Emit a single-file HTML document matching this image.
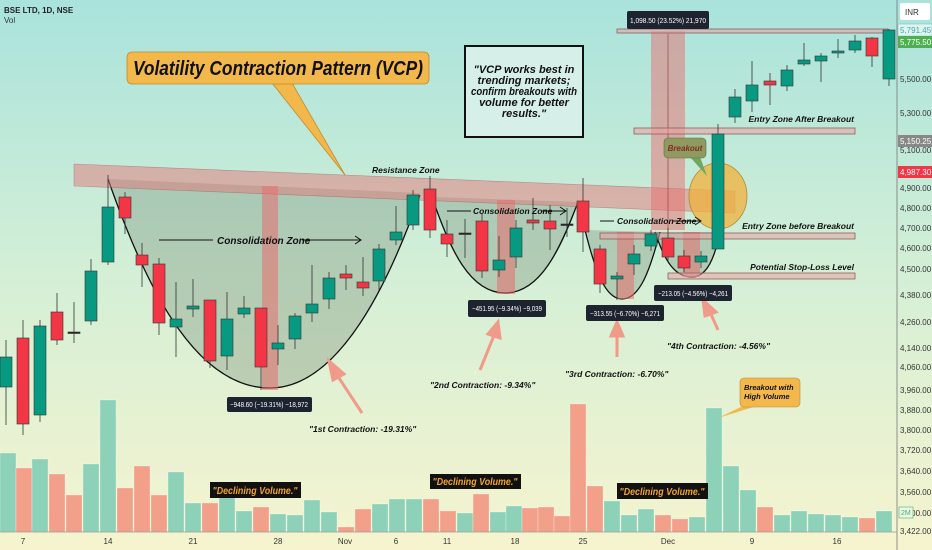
<!DOCTYPE html>
<html><head><meta charset="utf-8"><style>
html,body{margin:0;padding:0;width:932px;height:550px;overflow:hidden;font-family:"Liberation Sans",sans-serif}
svg{display:block}
.ax{font-size:8px;fill:#333}
.it{font-family:"Liberation Sans",sans-serif;font-style:italic;font-weight:bold}
</style></head><body>
<svg id="s" width="932" height="550" viewBox="0 0 932 550" xmlns="http://www.w3.org/2000/svg">
<defs><linearGradient id="bg" x1="0" y1="0" x2="0" y2="1">
<stop offset="0" stop-color="#a9e3dc"/><stop offset="0.5" stop-color="#d4efd6"/><stop offset="1" stop-color="#f6f4cf"/></linearGradient></defs>
<rect width="932" height="550" fill="url(#bg)"/>
<g id="vol"></g>
<g fill="rgba(110,130,110,0.32)" stroke="none">
<path d="M108,179 L420,193 C390,280 340,388 270,388 C200,388 150,300 108,179Z"/>
<path d="M432,197 C450,250 470,293 505,293 C540,293 560,250 578,202 Z"/>
<path d="M585,230 C595,270 605,299 622,299 C640,299 650,270 660,232 Z"/>
<path d="M655,232 C665,262 675,277 692,277 C705,277 712,262 716,248 L716,232 Z"/>
</g>
<g fill="none" stroke="#111" stroke-width="1.3">
<path d="M108,179 C150,300 200,388 270,388 C340,388 390,280 420,195"/>
<path d="M432,197 C450,250 470,293 505,293 C540,293 560,250 578,202"/>
<path d="M585,230 C595,270 605,299 622,299 C640,299 650,270 660,232"/>
<path d="M655,232 C665,262 675,277 692,277 C705,277 712,262 716,248"/>
</g>
<polygon points="74,164 735,191 735,213 74,186" fill="rgba(228,120,120,0.5)" stroke="rgba(160,80,80,0.5)" stroke-width="0.6"/>
<g fill="rgba(232,110,110,0.55)">
<rect x="262" y="186" width="16" height="204"/>
<rect x="497" y="200" width="18" height="94"/>
<rect x="617" y="232" width="17" height="67"/>
<rect x="683" y="232" width="17" height="45"/>
<rect x="651" y="31" width="34" height="199" fill="rgba(232,110,110,0.5)"/>
</g>
<line x1="668" y1="34" x2="668" y2="230" stroke="#a05050" stroke-width="0.8"/>
<g fill="rgba(235,160,160,0.55)" stroke="#8a6060" stroke-width="0.8">
<rect x="617" y="29" width="271" height="4"/>
<rect x="634" y="128" width="221" height="6"/>
<rect x="600" y="233" width="255" height="6"/>
<rect x="668" y="273" width="187" height="6"/>
</g>
<ellipse cx="718" cy="196" rx="29" ry="33" fill="rgba(240,178,60,0.75)" stroke="#b08a30" stroke-width="0.8"/>
<g id="cdl"></g>
<line x1="897" y1="0" x2="897" y2="550" stroke="#777" stroke-width="0.8"/>
<line x1="0" y1="532" x2="897" y2="532" stroke="#999" stroke-width="0.8"/>
<rect x="900" y="3" width="30" height="17" fill="#fff" rx="2"/><text x="905" y="15" class="ax">INR</text>
<g class="ax">
<text x="900" y="82">5,500.00</text><text x="900" y="116">5,300.00</text><text x="900" y="153">5,100.00</text>
<text x="900" y="191">4,900.00</text><text x="900" y="211">4,800.00</text><text x="900" y="231">4,700.00</text>
<text x="900" y="251">4,600.00</text><text x="900" y="272">4,500.00</text><text x="900" y="298">4,380.00</text>
<text x="900" y="325">4,260.00</text><text x="900" y="351">4,140.00</text><text x="900" y="370">4,060.00</text>
<text x="900" y="393">3,960.00</text><text x="900" y="413">3,880.00</text><text x="900" y="433">3,800.00</text>
<text x="900" y="453">3,720.00</text><text x="900" y="474">3,640.00</text><text x="900" y="495">3,560.00</text>
<text x="900" y="516">3,500.00</text><text x="900" y="534">3,422.00</text>
</g>
<rect x="898" y="24" width="34" height="12" fill="#dff3ef" stroke="#7cc" stroke-width="0.6"/><text x="900" y="33" class="ax" style="fill:#4aa">5,791.45</text>
<rect x="898" y="36" width="34" height="12" fill="#4caf50"/><text x="900" y="45" class="ax" style="fill:#fff">5,775.50</text>
<rect x="898" y="135" width="34" height="12" fill="#888"/><text x="900" y="144" class="ax" style="fill:#fff">5,150.25</text>
<rect x="898" y="166" width="34" height="12" fill="#f23645"/><text x="900" y="175" class="ax" style="fill:#fff">4,987.30</text>
<rect x="899" y="507" width="14" height="11" fill="#e8f8ef" stroke="#4caf50" stroke-width="0.6"/><text x="901" y="515" style="font-size:7px;fill:#4caf50">2M</text>
<g class="ax" text-anchor="middle">
<text x="23" y="544">7</text><text x="108" y="544">14</text><text x="193" y="544">21</text><text x="278" y="544">28</text>
<text x="345" y="544">Nov</text><text x="396" y="544">6</text><text x="447" y="544">11</text><text x="515" y="544">18</text>
<text x="583" y="544">25</text><text x="668" y="544">Dec</text><text x="752" y="544">9</text><text x="837" y="544">16</text>
</g>
<text x="4" y="13" style="font-size:8px;font-weight:bold;fill:#222">BSE LTD, 1D, NSE</text>
<text x="4" y="23" style="font-size:8px;fill:#333">Vol</text>
<polygon points="272,83 292,83 345,175" fill="#f2b84b" stroke="#c08a30" stroke-width="0.8"/>
<rect x="127" y="52" width="302" height="32" rx="5" fill="#f2b84b" stroke="#c08a30" stroke-width="0.8"/>
<text x="133" y="75" class="it" style="font-size:20px;fill:#111" textLength="290" lengthAdjust="spacingAndGlyphs">Volatility Contraction Pattern (VCP)</text>
<rect x="465" y="46" width="118" height="91" fill="#d6efe8" stroke="#111" stroke-width="2"/>
<g class="it" text-anchor="middle" style="font-size:11px;fill:#111">
<text x="524" y="73">"VCP works best in</text><text x="524" y="84">trending markets;</text>
<text x="524" y="95" textLength="106" lengthAdjust="spacingAndGlyphs">confirm breakouts with</text><text x="524" y="106">volume for better</text><text x="524" y="117">results."</text></g>
<g class="it" style="font-size:8.5px;fill:#111">
<text x="372" y="173">Resistance Zone</text>
<text x="854" y="122" text-anchor="end">Entry Zone After Breakout</text>
<text x="854" y="229" text-anchor="end">Entry Zone before Breakout</text>
<text x="854" y="270" text-anchor="end">Potential Stop-Loss Level</text>
<text x="217" y="244" style="font-size:10px">Consolidation Zone</text>
<text x="473" y="214">Consolidation Zone</text>
<text x="617" y="224">Consolidation Zone</text>
<text x="309" y="432">"1st Contraction: -19.31%"</text>
<text x="430" y="388">"2nd Contraction: -9.34%"</text>
<text x="565" y="377">"3rd Contraction: -6.70%"</text>
<text x="667" y="349">"4th Contraction: -4.56%"</text>
</g>
<g stroke="#111" stroke-width="1" fill="none">
<path d="M159,240 H213 M302,240 H360 M355,236 L361,240 L355,244"/>
<path d="M447,211 H471 M541,211 H565 M560,207 L566,211 L560,215"/>
<path d="M600,221 H614 M673,221 H700 M695,217 L701,221 L695,225"/>
</g>
<g stroke="#f09a8a" stroke-width="3" fill="#f09a8a">
<line x1="362" y1="413" x2="337" y2="375"/><polygon points="329,361 344,374 333,380"/>
<line x1="480" y1="370" x2="495" y2="333"/><polygon points="498,322 500,338 488,334"/>
<line x1="617" y1="357" x2="617" y2="333"/><polygon points="617,322 623,336 611,336"/>
<line x1="718" y1="330" x2="710" y2="312"/><polygon points="703,300 716,312 705,316"/>
</g>
<g fill="#1e2330">
<rect x="627" y="11" width="82" height="18" rx="2"/><rect x="227" y="397" width="85" height="15" rx="2"/>
<rect x="468" y="300" width="78" height="17" rx="2"/><rect x="586" y="305" width="78" height="16" rx="2"/>
<rect x="654" y="285" width="78" height="16" rx="2"/></g>
<g style="font-size:7px;fill:#fff" text-anchor="middle">
<text x="668" y="23" textLength="76" lengthAdjust="spacingAndGlyphs">1,098.50 (23.52%) 21,970</text>
<text x="269" y="407" textLength="78" lengthAdjust="spacingAndGlyphs">−948.60 (−19.31%) −18,972</text>
<text x="507" y="311" textLength="70" lengthAdjust="spacingAndGlyphs">−451.95 (−9.34%) −9,039</text>
<text x="625" y="316" textLength="70" lengthAdjust="spacingAndGlyphs">−313.55 (−6.70%) −6,271</text>
<text x="693" y="296" textLength="70" lengthAdjust="spacingAndGlyphs">−213.05 (−4.56%) −4,261</text></g>
<polygon points="690,157 700,157 707,176" fill="#6fa860"/>
<rect x="664" y="138" width="42" height="20" rx="4" fill="#8f9a60" stroke="#5a7040" stroke-width="0.6"/>
<text x="685" y="151" text-anchor="middle" class="it" style="font-size:8px;fill:#8a2a20">Breakout</text>
<polygon points="745,405 760,405 718,418" fill="#f2b84b"/>
<rect x="740" y="378" width="60" height="29" rx="4" fill="#f2b84b" stroke="#c08a30" stroke-width="0.6"/>
<g class="it" style="font-size:7.5px;fill:#111"><text x="744" y="390">Breakout with</text><text x="744" y="399">High Volume</text></g>
<g fill="#111"><rect x="210" y="482" width="91" height="16"/><rect x="430" y="474" width="91" height="15"/><rect x="617" y="483" width="91" height="16"/></g>
<g class="it" style="font-size:10px;fill:#f2a52b" text-anchor="middle">
<text x="255" y="494" textLength="85" lengthAdjust="spacingAndGlyphs">"Declining Volume."</text>
<text x="475" y="485" textLength="85" lengthAdjust="spacingAndGlyphs">"Declining Volume."</text>
<text x="662" y="495" textLength="85" lengthAdjust="spacingAndGlyphs">"Declining Volume."</text></g>
</svg>
<script>
var C=[[6,'g',357,387,340,425],[23,'r',338,424,320,435],[40,'g',326,415,320,422],[57,'r',312,340,293,345],[74,'d',332,332,302,343],
[91,'g',271,321,259,325],[108,'g',207,262,175,265],[125,'r',197,218,192,234],[142,'r',255,265,243,287],[159,'r',264,323,258,335],
[176,'g',319,327,282,357],[193,'g',306,309,279,317],[210,'r',300,361,300,368],[227,'g',319,356,292,370],[244,'g',308,314,296,318],
[261,'r',308,367,308,390],[278,'g',343,349,325,365],[295,'g',316,339,313,349],[312,'g',304,313,265,322],[329,'g',278,299,272,309],
[346,'r',274,278,265,290],[363,'r',282,288,257,296],[379,'g',249,281,244,290],[396,'g',232,240,206,245],[413,'g',195,225,190,230],
[430,'r',189,230,176,238],[447,'r',234,244,220,257],[465,'d',233,233,219,258],[482,'r',221,271,213,278],[499,'g',260,270,236,277],
[516,'g',228,257,220,268],[533,'r',220,223,198,230],[550,'r',221,229,205,250],[567,'d',224,224,208,237],[583,'r',201,232,178,252],
[600,'r',249,284,245,293],[617,'g',276,279,272,300],[634,'g',254,264,245,275],[651,'g',234,246,230,251],[668,'r',238,257,228,262],
[684,'r',256,268,250,272],[701,'g',256,262,251,268],[718,'g',134,249,124,249],[735,'g',97,117,89,123],[752,'g',85,101,61,112],
[770,'r',81,85,73,105],[787,'g',70,86,65,91],[804,'g',60,64,43,66],[821,'g',56,61,53,82],[838,'g',51,53,39,58],
[855,'g',41,50,35,53],[872,'r',38,56,37,67],[889,'g',30,79,29,86]];
var s='';C.forEach(function(c){var col=c[1]=='r'?'#f23645':'#089981';if(c[1]=='d')col='#222';
s+='<line x1="'+c[0]+'" y1="'+c[4]+'" x2="'+c[0]+'" y2="'+c[5]+'" stroke="#333" stroke-width="0.8"/>';
var h=Math.max(c[3]-c[2],1.5);s+='<rect x="'+(c[0]-6)+'" y="'+c[2]+'" width="12" height="'+h+'" fill="'+col+'" stroke="#333" stroke-width="0.6"/>';});
document.getElementById('cdl').innerHTML=s;
var V=[[0,453,'g'],[16,468,'r'],[32,459,'g'],[49,474,'r'],[66,495,'r'],[83,464,'g'],[100,400,'g'],[117,488,'r'],[134,466,'r'],[151,495,'r'],
[168,472,'g'],[185,503,'g'],[202,503,'r'],[219,495,'g'],[236,511,'g'],[253,507,'r'],[270,514,'g'],[287,515,'g'],[304,500,'g'],[321,512,'g'],
[338,527,'r'],[355,509,'r'],[372,504,'g'],[389,499,'g'],[406,499,'g'],[423,499,'r'],[440,511,'r'],[457,513,'g'],[473,494,'r'],[490,512,'g'],
[506,506,'g'],[522,508,'r'],[538,507,'r'],[554,516,'r'],[570,404,'r'],[587,486,'r'],[604,501,'g'],[621,515,'g'],[638,509,'g'],[655,515,'r'],
[672,519,'r'],[689,517,'g'],[706,408,'g'],[723,466,'g'],[740,490,'g'],[757,507,'r'],[774,515,'g'],[791,511,'g'],[808,514,'g'],[825,515,'g'],
[842,517,'g'],[859,518,'r'],[876,511,'g']];
s='';V.forEach(function(v){s+='<rect x="'+v[0]+'" y="'+v[1]+'" width="16" height="'+(532-v[1])+'" fill="'+(v[2]=='r'?'#f2a08a':'#8dd2b8')+'" stroke="rgba(255,255,255,0.5)" stroke-width="0.5"/>';});
document.getElementById('vol').innerHTML=s;
</script>
</body></html>
